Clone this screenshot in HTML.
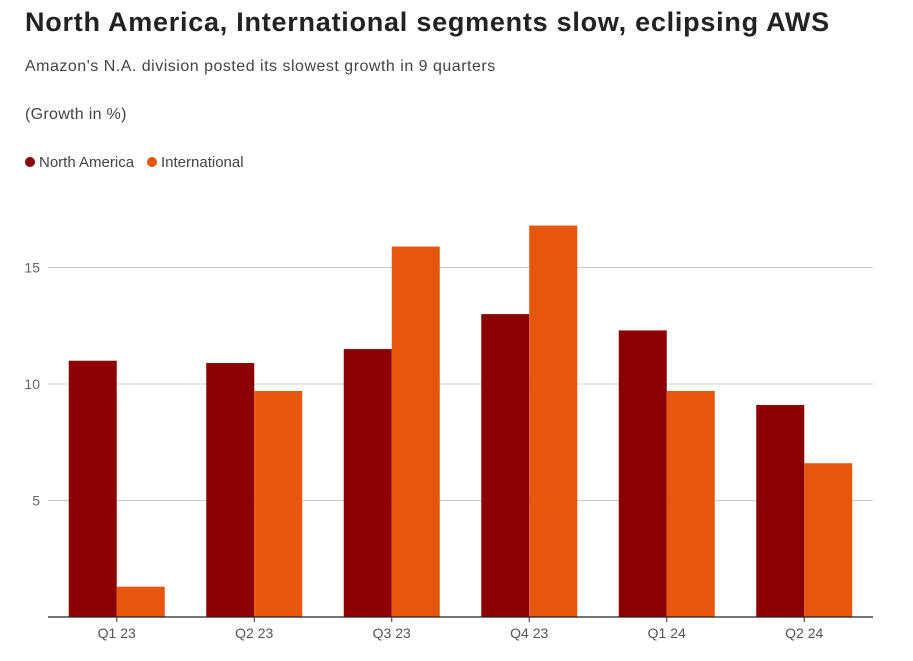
<!DOCTYPE html>
<html><head><meta charset="utf-8"><style>
body{margin:0;background:#fff;font-family:"Liberation Sans",sans-serif;width:913px;height:661px;overflow:hidden;position:relative}
.t{position:absolute;left:25px;top:7px;font-size:27px;font-weight:bold;color:#222;letter-spacing:0.75px}
.s{position:absolute;left:25px;top:58px;font-size:16px;color:#444;letter-spacing:0.5px}
.u{position:absolute;left:25px;top:106px;font-size:16px;color:#444;letter-spacing:0.3px}
.lg{position:absolute;top:154px;font-size:15px;color:#444}
.dot{display:inline-block;width:10px;height:10px;border-radius:5px;margin-right:4px;vertical-align:0px}
</style></head><body>
<div class="t">North America, International segments slow, eclipsing AWS</div>
<div class="s">Amazon's N.A. division posted its slowest growth in 9 quarters</div>
<div class="u">(Growth in %)</div>
<div class="lg" style="left:25px"><span class="dot" style="background:#8b0000"></span>North America</div>
<div class="lg" style="left:147px"><span class="dot" style="background:#e5560f"></span>International</div>
<svg id="c" width="913" height="661" style="position:absolute;left:0;top:0"></svg>
<script>
const categories=["Q1 23","Q2 23","Q3 23","Q4 23","Q1 24","Q2 24"];
const northAmerica=[11.0,10.9,11.5,13.0,12.3,9.1];
const international=[1.3,9.7,15.9,16.8,9.7,6.6];
const yTicks=[5,10,15];
const svg=document.getElementById('c');
const NS='http://www.w3.org/2000/svg';
const x0=48,x1=873,yBase=617,pxPer=23.3;
const y=v=>yBase-v*pxPer;
const band=(x1-x0)/categories.length;
const bw=48;
function mk(t,a){const e=document.createElementNS(NS,t);for(const k in a)e.setAttribute(k,a[k]);svg.appendChild(e);return e;}
yTicks.forEach(v=>{
 const l=mk('line',{x1:x0,x2:x1,y1:y(v),y2:y(v),stroke:'#ccc','stroke-width':1});
 
 
 const t=mk('text',{x:40,y:y(v)+5,'text-anchor':'end','font-size':14,fill:'#666','font-family':'Liberation Sans, sans-serif'});
 t.textContent=v;
 
 
});
categories.forEach((c,i)=>{
 const cx=x0+band*(i+0.5);
 const a=mk('rect',{x:cx-bw,y:y(northAmerica[i]),width:bw,height:northAmerica[i]*pxPer,fill:'#8b0000'});
 
 
 const b=mk('rect',{x:cx,y:y(international[i]),width:bw,height:international[i]*pxPer,fill:'#e5560f'});
 
 
 const tk=mk('line',{x1:cx,x2:cx,y1:yBase,y2:yBase+5,stroke:'#333'});
 
 
 const t=mk('text',{x:cx,y:yBase+21,'text-anchor':'middle','font-size':14,fill:'#555','font-family':'Liberation Sans, sans-serif'});
 t.textContent=c;
 
 
});
const ax=mk('line',{x1:x0,x2:x1,y1:yBase,y2:yBase,stroke:'#222','stroke-width':1.2});


</script>
</body></html>
